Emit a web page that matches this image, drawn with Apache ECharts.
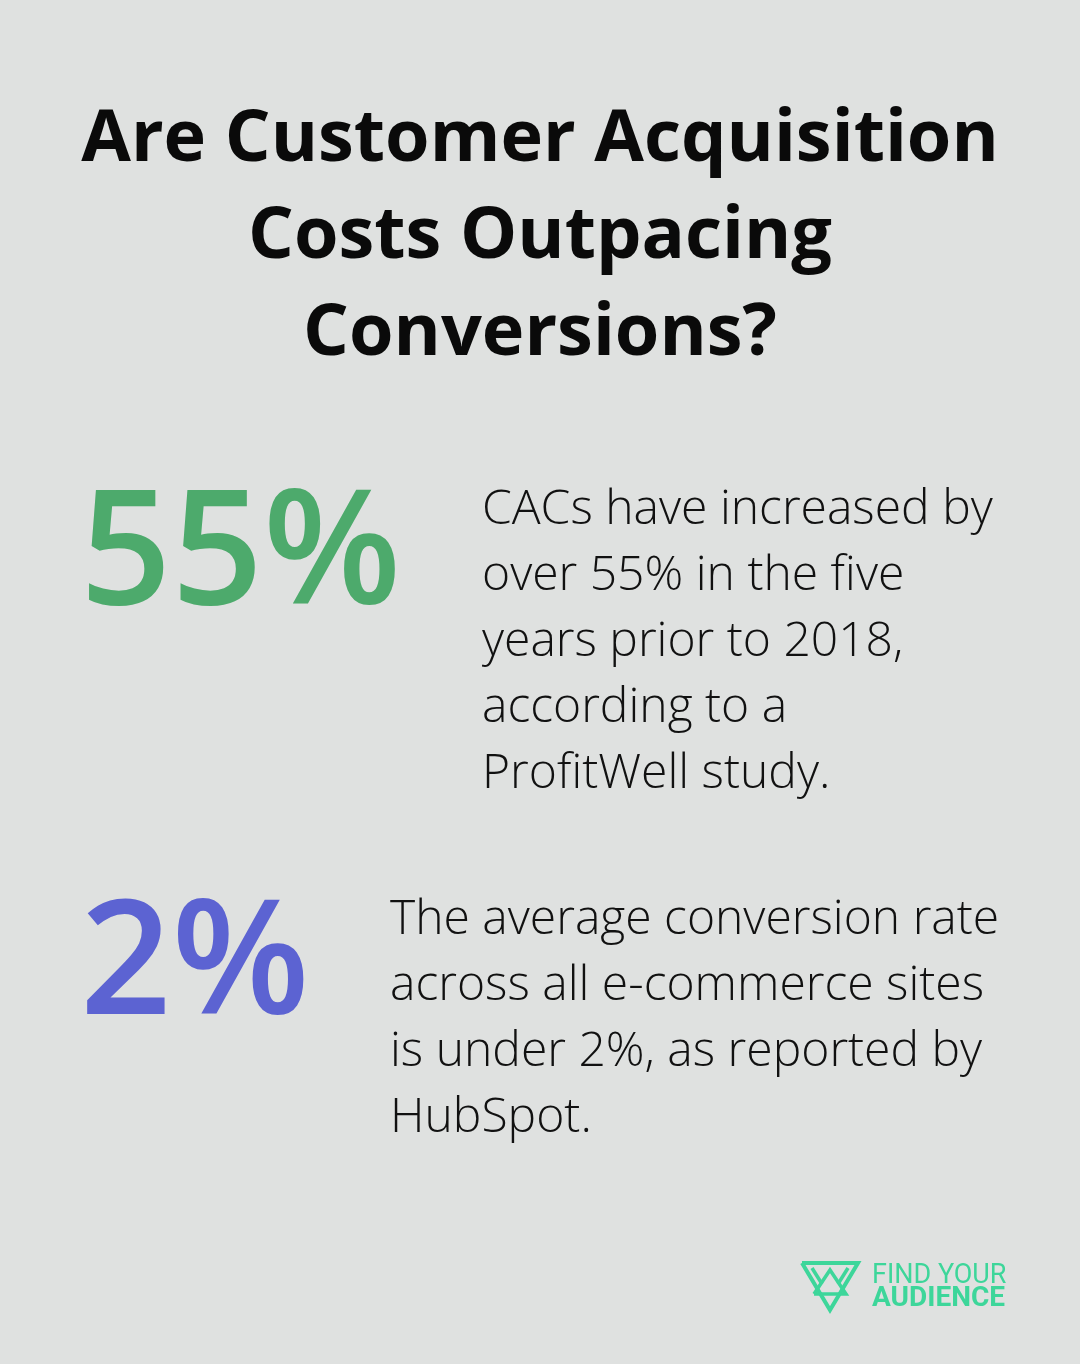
<!DOCTYPE html>
<html>
<head>
<meta charset="utf-8">
<script src="https://cdn.jsdelivr.net/npm/echarts@6/dist/echarts.min.js"></script>
<style>html,body{margin:0;padding:0;background:#dfe1e0}#main{width:1080px;height:1364px}</style>
</head>
<body>
<div id="main"></div>
<script>
// data
var titleLines = ['Are Customer Acquisition', 'Costs Outpacing', 'Conversions?'];
var statValues = ['55%', '2%'];
var statColors = ['#4daa6c', '#5c63d2'];
var statTexts = [
  ['CACs have increased by', 'over 55% in the five', 'years prior to 2018,', 'according to a', 'ProfitWell study.'],
  ['The average conversion rate', 'across all e-commerce sites', 'is under 2%, as reported by', 'HubSpot.']
];
var brandLines = ['FIND YOUR', 'AUDIENCE'];

var chart = echarts.init(document.getElementById('main'));
var els = [];
titleLines.forEach(function (t, i) {
  els.push({type: 'text', left: 'center', top: 104 + i * 97,
    style: {text: t, font: 'bold 72px "Open Sans"', fill: '#0a0a0a'}});
});
var blockTop = [470, 880];
var textX = [482, 390];
statValues.forEach(function (v, i) {
  els.push({type: 'text', x: 80, y: blockTop[i] + 8,
    style: {text: v, font: '600 160px "Open Sans"', fill: statColors[i]}});
  statTexts[i].forEach(function (line, j) {
    els.push({type: 'text', x: textX[i], y: blockTop[i] + 16 + j * 66,
      style: {text: line, font: '300 48px "Open Sans"', fill: '#111'}});
  });
});
// logo
var g = '#3dd69a';
els.push({type: 'polyline', shape: {points: [[802, 1263], [858, 1263], [830, 1310], [802, 1263]]}, style: {stroke: g, lineWidth: 4, fill: null}});
els.push({type: 'polyline', shape: {points: [[814, 1294], [830, 1270], [846, 1294], [814, 1294]]}, style: {stroke: g, lineWidth: 3.5, fill: null}});
els.push({type: 'polyline', shape: {points: [[812, 1268], [822, 1284]]}, style: {stroke: g, lineWidth: 3.5}});
els.push({type: 'polyline', shape: {points: [[848, 1268], [838, 1284]]}, style: {stroke: g, lineWidth: 3.5}});
els.push({type: 'text', x: 872, y: 1263, style: {text: brandLines[0], font: '27px "Roboto"', fill: g}});
els.push({type: 'text', x: 872, y: 1285, style: {text: brandLines[1], font: 'bold 28px "Roboto"', fill: g}});

chart.setOption({backgroundColor: '#dfe1e0', graphic: {elements: els}});
</script>
</body>
</html>
